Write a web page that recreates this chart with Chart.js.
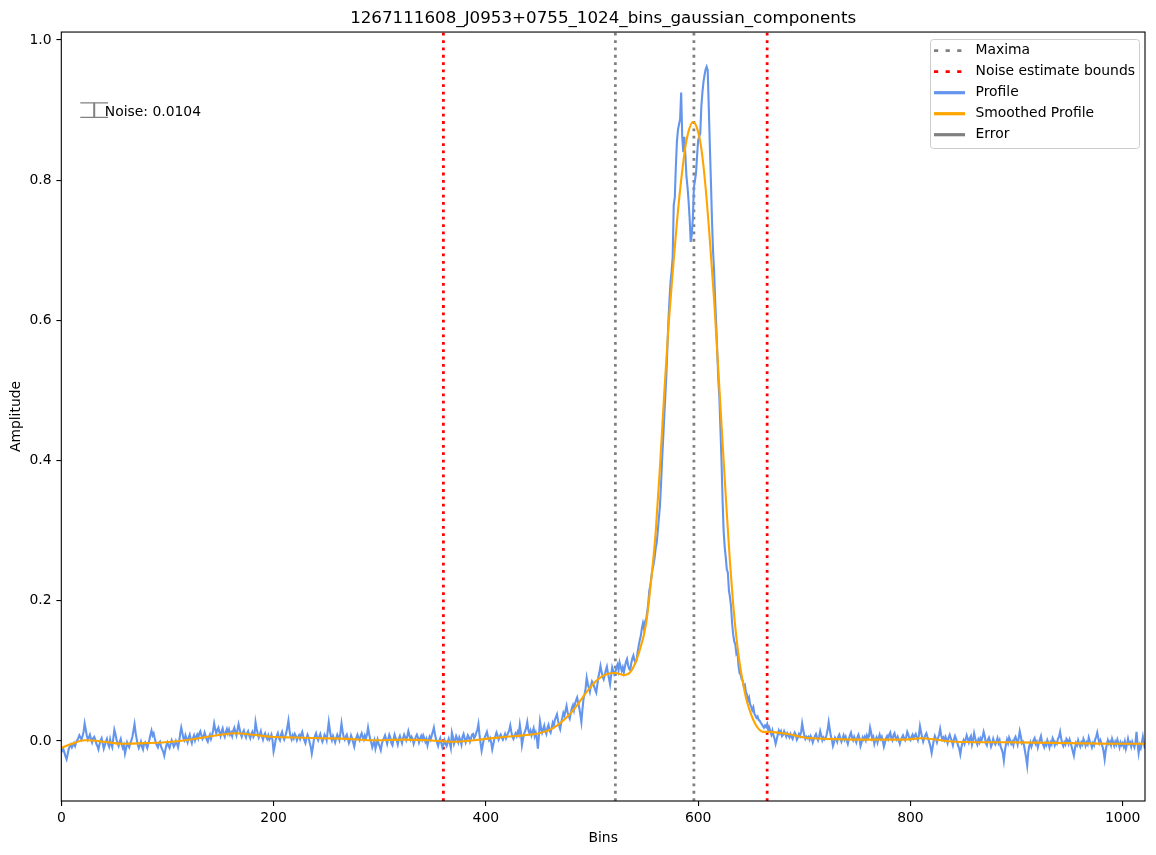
<!DOCTYPE html>
<html>
<head>
<meta charset="utf-8">
<script src="https://cdn.jsdelivr.net/npm/chart.js@4.4.1/dist/chart.umd.min.js"></script>
<style>
  html, body { margin: 0; padding: 0; background: #fff; }
  #wrap { width: 1156px; height: 855px; }
</style>
</head>
<body>
<div id="wrap"><canvas id="chart" width="1156" height="855"></canvas></div>
<script>
const chartTitle = '1267111608_J0953+0755_1024_bins_gaussian_components';
const maximaBins = [522, 596];
const noiseBounds = [360, 665];
const noiseLevel = 0.0104;
const errX = 31;
const errY = 0.9;
const xTicks = [0, 200, 400, 600, 800, 1000];
const yTicks = [0, 0.2, 0.4, 0.6, 0.8, 1.0];
const xMin = 0, xMax = 1021;
const yMin = -0.0856, yMax = 1.0114;

// profile amplitude in thousandths, one value per bin (0..1023)
const profileMilli = [
  -10, -14, -12, -17, -22, -26, -19, -11, -8, -5, -9, -6, -3, -7, -2, 1,
  4, 8, 5, 2, 7, 13, 25, 17, 8, 2, 5, 9, 3, -2, 4, 6,
  2, -4, -7, -12, -5, 1, 4, -3, -11, -6, -1, 3, -4, -8, 2, -5,
  -9, 4, 16, 10, 2, -3, -7, -1, 3, -5, -10, -6, -18, -11, -2, -6,
  -9, -3, 1, 6, 15, 24, 12, 3, -5, -10, -6, -1, -8, -12, -4, -2,
  -6, -10, -4, 2, 9, 15, 8, 11, 4, -2, -6, -9, -3, -1, -8, -12,
  -15, -21, -13, -6, -2, -7, -10, -4, 1, -3, -8, -5, 0, -4, -9, -1,
  10, 19, 12, 4, 1, 8, 3, -2, 5, 9, 2, -3, 4, 8, 1, 6,
  9, 4, 11, 14, 8, 3, 6, 12, 7, 2, -1, 5, 9, 3, 8, 15,
  25, 17, 11, 16, 19, 12, 7, 14, 18, 10, 6, 13, 17, 11, 16, 9,
  12, 7, 15, 19, 13, 8, 16, 24, 17, 10, 6, 12, 15, 9, 5, 11,
  14, 8, 4, 10, 13, 6, 9, 27, 18, 11, 5, 9, 14, 7, 2, 8,
  11, 6, 3, 8, 2, 5, 9, 1, -15, -8, 2, 7, 11, 4, 1, 9,
  13, 6, 2, 7, 12, 20, 29, 15, 6, 2, 8, 4, 10, 7, 1, 5,
  8, 3, 9, 13, 6, 1, -3, 4, 9, 5, -2, -8, -18, -9, 2, 7,
  11, 5, 1, 6, 10, 4, -1, 3, 9, 6, 1, 14, 27, 16, 6, 1,
  7, 3, -2, 4, 9, 5, 1, 12, 25, 14, 6, 2, 6, 9, 3, -3,
  1, 8, 4, -2, -8, 0, 5, 9, 4, 1, 7, 11, 6, 2, 8, 4,
  9, 19, 10, 3, -2, -9, -4, 1, -11, -5, 2, -4, -8, -13, -4, 1,
  4, 8, 2, -4, 3, 9, 5, -3, -6, 2, 9, 4, 1, -5, 3, 7,
  2, -3, 4, 9, 5, 1, 7, 14, 8, 2, 6, 3, -4, 1, 6, 9,
  5, -2, 3, 7, 2, 8, 4, -1, 3, -6, 1, 6, 2, 8, 13, 19,
  10, 3, -2, -7, 0, 4, -3, -9, -5, 1, -4, -7, -2, 3, -3, -10,
  12, 6, -4, 1, 7, 3, -2, 5, 1, -5, 6, 10, 4, -2, 3, 8,
  5, -1, 4, 9, 10, 4, 7, 12, 16, 24, 9, -3, -14, -6, 2, 5,
  9, 13, 6, 1, 4, -2, -12, -5, 3, 7, 12, 8, 2, 6, 9, 5,
  2, 6, 10, 4, 8, 12, 15, 22, 13, 6, 3, 8, 11, 7, 13, 9,
  23, 12, -6, 3, 10, 14, 19, 27, 16, 11, 15, 8, 13, 18, 7, 12,
  4, -11, 8, 28, 19, 12, 17, 22, 14, 10, 19, 23, 15, 12, 19, 26,
  22, 30, 34, 38, 29, 22, 17, 26, 33, 40, 36, 43, 50, 41, 36, 32,
  40, 47, 51, 44, 53, 58, 62, 55, 47, 38, 27, 45, 60, 67, 75, 90,
  82, 76, 70, 79, 85, 82, 78, 73, 69, 80, 91, 98, 107, 99, 92, 88,
  94, 101, 106, 97, 89, 81, 94, 105, 100, 95, 98, 105, 109, 101, 112, 106,
  100, 105, 98, 106, 113, 117, 108, 103, 101, 111, 118, 122, 115, 112, 116, 127,
  136, 144, 150, 161, 168, 160, 171, 173, 184, 196, 215, 222, 235, 245, 252, 262,
  275, 283, 300, 318, 335, 365, 400, 430, 460, 490, 520, 560, 600, 630, 655, 670,
  690, 765, 775, 820, 855, 872, 880, 887, 925, 862, 840, 862, 835, 805, 790, 770,
  745, 712, 722, 745, 790, 800, 810, 835, 857, 862, 867, 905, 925, 940, 950, 958,
  962, 957, 905, 850, 800, 745, 700, 672, 630, 595, 555, 515, 490, 445, 400, 345,
  300, 277, 262, 245, 240, 215, 205, 192, 168, 152, 142, 138, 125, 128, 108, 97,
  95, 88, 86, 78, 80, 70, 66, 58, 62, 52, 49, 44, 48, 39, 36, 33,
  35, 30, 29, 26, 24, 21, 19, 22, 20, 24, 16, 19, 14, 9, 15, 8,
  3, -4, 2, 9, 15, 11, 14, 7, 9, 14, 10, 6, 11, 8, 5, 10,
  6, 3, 8, 12, 9, 2, 5, 10, 7, 13, 25, 16, 8, 3, 6, 4,
  6, 2, 7, 4, -2, 3, 7, 10, 5, 1, 6, 14, 8, 1, 5, 2,
  4, 9, 16, 27, 17, 7, 2, -7, -2, 5, 3, -1, 6, 9, 4, -1,
  3, 8, 2, 6, 1, -4, 3, 8, 12, 5, 1, 6, 2, -2, 5, 9,
  4, -7, -2, 5, 2, 6, 1, 8, 4, 7, 19, 12, 3, 6, -4, 2,
  5, -2, 4, 9, 3, 6, 0, -8, -2, 4, 7, 3, 9, 12, 4, 1,
  8, 11, 5, 2, 6, 1, -4, 2, 5, 8, 4, 1, 6, 13, 9, 3,
  1, 6, 9, 4, 7, 10, 5, 1, 8, 21, 13, 5, -1, 4, 8, 11,
  6, 2, -3, -9, -17, -8, 1, 7, 3, -2, 4, 9, 17, 8, 2, 5,
  1, 6, 2, -3, 5, 9, 4, 0, -6, 2, 7, 3, -2, -7, -11, -19,
  -9, -3, 1, -4, 2, 8, 3, -2, 4, 7, -5, 1, 11, 4, -1, -5,
  2, -2, 4, 1, 6, 13, 7, -3, -6, 2, 5, 0, -8, -4, 3, -2,
  -5, -1, 4, -3, 1, -8, -12, -17, -28, -14, -5, 2, -3, 5, 1, -4,
  -1, -6, 3, 6, 1, -5, 4, 14, 7, -3, -1, -6, -15, -24, -35, -16,
  -7, -2, -8, -3, 1, 4, -4, -1, -9, -3, 2, 7, -2, -5, -9, -3,
  -6, 1, -3, -9, -2, -5, 4, 1, -6, -2, -4, 3, 6, 13, 4, -3,
  -7, -2, -5, 3, 1, -4, 2, -3, -9, -15, -21, -11, -3, -6, 1, -4,
  -8, -2, -5, 3, -1, -7, -2, -5, 5, 0, -4, -9, -3, -6, 2, 6,
  12, 4, -3, 1, -4, -8, -15, -26, -13, -5, 1, -4, -1, -6, 3, -2,
  -7, -1, -5, 2, -3, -9, -2, -6, -3, -8, -1, -11, -5, 3, -4, -2,
  -8, -1, -5, -9, -2, 13, -4, -17, -6, -10, -3, 6, -4, -11, -2, -7
];

// smoothed profile, read at these bins (thousandths)
const smoothBins = [
  0, 10, 22, 40, 57, 80, 104, 130, 150, 164, 180, 198, 220, 245, 270, 292,
  323, 345, 370, 400, 419, 435, 450, 463, 475, 485, 494, 504, 513, 522, 530, 537,
  544, 551, 557, 560, 564, 568, 572, 576, 580, 584, 588, 591, 595, 599, 603, 607,
  611, 615, 618, 621, 624, 627, 630, 633, 636, 639, 642, 645, 648, 652, 656, 661,
  668, 675, 685, 700, 720, 760, 795, 810, 842, 900, 951, 1000, 1023
];
const smoothMilli = [
  -10, -4, 1, -1, -4, -3, -1, 4, 9, 11, 9, 6, 5, 4, 3, 1,
  2, 1, -1, 3, 6, 8, 11, 18, 32, 49, 68, 86, 95, 97, 94, 100,
  125, 168, 248, 298, 390, 495, 590, 668, 740, 800, 848, 870, 883, 874, 845, 790,
  715, 630, 555, 478, 400, 325, 255, 195, 148, 112, 85, 62, 46, 30, 19, 13,
  13, 12, 10, 5, 3, 2, 2, 4, -1, -2, -3, -4, -4
];

const FONT = 'DejaVu Sans';
const BLUE = '#6495ED', ORANGE = '#FFA500', GREY = '#808080', RED = '#FF0000';

const profileData = profileMilli.map((v, i) => ({ x: i, y: v / 1000 }));
const smoothData = smoothBins.map((b, i) => ({ x: b, y: smoothMilli[i] / 1000 }));
function vlines(bins){
  return bins.flatMap(b => [{ x: b, y: yMin }, { x: b, y: yMax }, { x: b, y: null }]);
}

// matplotlib style legend, top right inside the axes
const legendRows = [
  { label: 'Maxima', color: GREY, width: 2.8, dash: [4.2, 7.4] },
  { label: 'Noise estimate bounds', color: RED, width: 2.8, dash: [4.2, 7.4] },
  { label: 'Profile', color: BLUE, width: 3.2, dash: [] },
  { label: 'Smoothed Profile', color: ORANGE, width: 3.2, dash: [] },
  { label: 'Error', color: GREY, width: 3.2, dash: [] }
];

function roundRect(ctx, x, y, w, h, r){
  ctx.beginPath();
  ctx.moveTo(x + r, y);
  ctx.lineTo(x + w - r, y);
  ctx.arcTo(x + w, y, x + w, y + r, r);
  ctx.lineTo(x + w, y + h - r);
  ctx.arcTo(x + w, y + h, x + w - r, y + h, r);
  ctx.lineTo(x + r, y + h);
  ctx.arcTo(x, y + h, x, y + h - r, r);
  ctx.lineTo(x, y + r);
  ctx.arcTo(x, y, x + r, y, r);
  ctx.closePath();
}

const extras = {
  id: 'extras',
  afterDatasetsDraw(chart){
    const { ctx, chartArea: a, scales: { x, y } } = chart;
    ctx.save();
    // error bar
    const cx = x.getPixelForValue(errX);
    const yTop = y.getPixelForValue(errY + noiseLevel);
    const yBot = y.getPixelForValue(errY - noiseLevel);
    ctx.strokeStyle = GREY;
    ctx.lineWidth = 2;
    ctx.beginPath();
    ctx.moveTo(cx, yTop); ctx.lineTo(cx, yBot);
    ctx.stroke();
    ctx.lineWidth = 1.4;
    ctx.beginPath();
    ctx.moveTo(cx - 13.9, yTop); ctx.lineTo(cx + 13.9, yTop);
    ctx.moveTo(cx - 13.9, yBot); ctx.lineTo(cx + 13.9, yBot);
    ctx.stroke();
    ctx.fillStyle = '#000';
    ctx.font = '13.9px "' + FONT + '"';
    ctx.textAlign = 'left';
    ctx.textBaseline = 'middle';
    ctx.fillText('Noise: ' + noiseLevel.toFixed(4), x.getPixelForValue(errX + 10), y.getPixelForValue(errY) + 2);

    // frame
    ctx.strokeStyle = '#000';
    ctx.lineWidth = 1.1;
    ctx.strokeRect(a.left, a.top, a.right - a.left, a.bottom - a.top);

    // legend
    const bx = 930.5, by = 39.5, bw = 209, bh = 109;
    roundRect(ctx, bx, by, bw, bh, 3);
    ctx.fillStyle = 'rgba(255,255,255,0.8)';
    ctx.fill();
    ctx.strokeStyle = '#cccccc';
    ctx.lineWidth = 1;
    ctx.stroke();
    legendRows.forEach((r, i) => {
      const ry = 50.7 + i * 21;
      ctx.strokeStyle = r.color;
      ctx.lineWidth = r.width;
      ctx.lineCap = 'butt';
      ctx.setLineDash(r.dash);
      ctx.beginPath();
      ctx.moveTo(934, ry); ctx.lineTo(965, ry);
      ctx.stroke();
      ctx.setLineDash([]);
      ctx.fillStyle = '#000';
      ctx.fillText(r.label, 975.5, ry);
    });
    ctx.restore();
  }
};

Chart.defaults.font.family = FONT;
Chart.defaults.font.size = 13.9;
Chart.defaults.color = '#000';

new Chart(document.getElementById('chart'), {
  type: 'line',
  data: {
    datasets: [
      { label: 'Smoothed Profile', data: smoothData, borderColor: ORANGE, borderWidth: 2.1,
        pointRadius: 0, cubicInterpolationMode: 'monotone', order: 0 },
      { label: 'Profile', data: profileData, borderColor: BLUE, borderWidth: 2.1,
        pointRadius: 0, tension: 0, order: 1 },
      { label: 'Noise estimate bounds', data: vlines(noiseBounds), borderColor: RED, borderWidth: 2.78,
        borderDash: [2.78, 4.58], borderCapStyle: 'butt', pointRadius: 0, spanGaps: false, order: 2 },
      { label: 'Maxima', data: vlines(maximaBins), borderColor: GREY, borderWidth: 2.78,
        borderDash: [2.78, 4.58], borderCapStyle: 'butt', pointRadius: 0, spanGaps: false, order: 3 }
    ]
  },
  options: {
    responsive: false,
    animation: false,
    devicePixelRatio: 1,
    layout: { padding: { left: 0, right: 11, top: 0, bottom: 0 } },
    plugins: {
      legend: { display: false },
      tooltip: { enabled: false },
      title: {
        display: true, text: chartTitle, fullSize: false, color: '#000',
        font: { family: FONT, size: 16.7, weight: 'normal', lineHeight: 1.2 },
        padding: { top: 8.5, bottom: 3.5 }
      }
    },
    scales: {
      x: {
        type: 'linear', min: xMin, max: xMax,
        afterBuildTicks: s => { s.ticks = xTicks.map(v => ({ value: v })); },
        afterFit: s => { s.height = 54; },
        ticks: { autoSkip: false, maxRotation: 0, padding: 4, color: '#000',
          callback: v => String(v) },
        grid: { display: true, drawOnChartArea: false, drawTicks: true, tickLength: 4.9,
          color: '#000', lineWidth: 1.1 },
        border: { display: false },
        title: { display: true, text: 'Bins', color: '#000',
          font: { family: FONT, size: 13.9, lineHeight: 1.2 }, padding: { top: 0, bottom: 8.4 } }
      },
      y: {
        type: 'linear', min: yMin, max: yMax,
        afterBuildTicks: s => { s.ticks = yTicks.map(v => ({ value: v })); },
        afterFit: s => { s.width = 61.3; },
        ticks: { autoSkip: false, padding: 4.9, color: '#000',
          callback: v => v.toFixed(1) },
        grid: { display: true, drawOnChartArea: false, drawTicks: true, tickLength: 4.9,
          color: '#000', lineWidth: 1.1 },
        border: { display: false },
        title: { display: true, text: 'Amplitude', color: '#000',
          font: { family: FONT, size: 13.9, lineHeight: 1.2 }, padding: { top: 7.7, bottom: 0 } }
      }
    }
  },
  plugins: [extras]
});
</script>
</body>
</html>
